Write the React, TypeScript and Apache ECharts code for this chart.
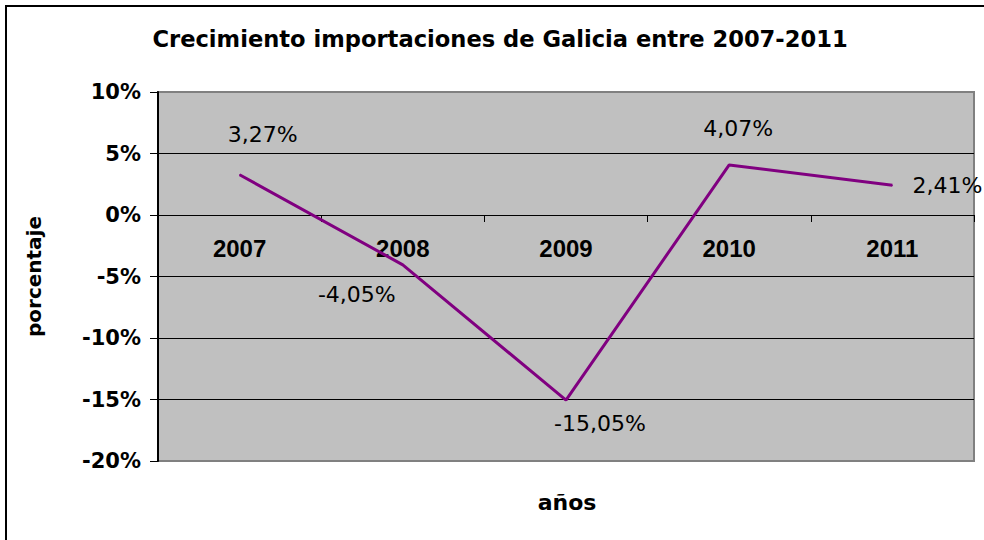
import React, { useEffect, useRef } from "react";
import * as echarts from "echarts";

const title = "Crecimiento importaciones de Galicia entre 2007-2011";
const categories = ["2007", "2008", "2009", "2010", "2011"];
const growth = [3.27, -4.05, -15.05, 4.07, 2.41];
const yMin = -20;
const yMax = 10;
const yStep = 5;
const yName = "porcentaje";
const xName = "años";

// label placement (layout, not data)
const labelOffsets: [number, number][] = [
  [23, -40],
  [-46, 30],
  [34, 23],
  [9, -36],
  [55, 0],
];

const GRID_TOP = 92;
const GRID_BOTTOM = 79;
const CHART_H = 540;

const fmt = (v: number) => v.toFixed(2).replace(".", ",") + "%";

export default function App() {
  const ref = useRef<HTMLDivElement>(null);
  useEffect(() => {
    if (!ref.current) return;
    const chart = echarts.init(ref.current, undefined, { renderer: "svg" });
    const nLines = (yMax - yMin) / yStep + 1;
    const splitColors = Array.from({ length: nLines }, (_, i) =>
      i === 0 || i === nLines - 1 ? "#808080" : "#000000"
    );
    // distance from bottom of grid to the zero line, so the category axis sits on 0
    const gridH = CHART_H - GRID_TOP - GRID_BOTTOM;
    const zeroFromBottom = (gridH * (0 - yMin)) / (yMax - yMin);
    chart.setOption({
      animation: false,
      backgroundColor: "#ffffff",
      title: {
        text: title,
        left: 500,
        top: 27,
        padding: 0,
        textAlign: "center",
        textStyle: {
          fontFamily: "DejaVu Sans",
          fontWeight: "bold",
          fontSize: 22.6,
          color: "#000",
        },
      },
      grid: {
        left: 158,
        top: GRID_TOP,
        right: 10,
        bottom: GRID_BOTTOM,
        show: true,
        backgroundColor: "#C0C0C0",
        borderColor: "#808080",
        borderWidth: 2,
      },
      xAxis: {
        type: "category",
        data: categories,
        boundaryGap: true,
        offset: -zeroFromBottom,
        axisLine: { onZero: false, lineStyle: { color: "#000", width: 1 } },
        axisTick: { show: true, length: 7, lineStyle: { color: "#000" } },
        axisLabel: {
          margin: 21,
          fontFamily: "Liberation Sans",
          fontWeight: "bold",
          fontSize: 24,
          color: "#000",
        },
        splitLine: { show: false },
      },
      yAxis: {
        type: "value",
        min: yMin,
        max: yMax,
        interval: yStep,
        name: yName,
        nameLocation: "middle",
        nameGap: 114,
        nameRotate: 90,
        nameTextStyle: {
          fontFamily: "DejaVu Sans",
          fontWeight: "bold",
          fontSize: 20,
          color: "#000",
        },
        axisLine: { show: true, lineStyle: { color: "#000", width: 2 } },
        axisTick: { show: true, length: 8, lineStyle: { color: "#000", width: 1 } },
        axisLabel: {
          margin: 17,
          formatter: (v: number) => v + "%",
          fontFamily: "DejaVu Sans",
          fontWeight: "bold",
          fontSize: 21,
          color: "#000",
        },
        splitLine: { show: true, lineStyle: { color: splitColors, width: 1 } },
      },
      graphic: [
        {
          type: "rect",
          shape: { x: 6, y: 6, width: 1000, height: 600 },
          style: { fill: "none", stroke: "#000", lineWidth: 2 },
          silent: true,
          z: 100,
        },
        {
          type: "text",
          x: 567,
          y: 502,
          style: {
            text: xName,
            fontFamily: "DejaVu Sans",
            fontWeight: "bold",
            fontSize: 22,
            fill: "#000",
            textAlign: "center",
            textVerticalAlign: "middle",
          },
        },
      ],
      series: [
        {
          type: "line",
          data: growth.map((v, i) => ({
            value: v,
            label: { offset: labelOffsets[i] },
          })),
          symbol: "circle",
          symbolSize: 1,
          itemStyle: { color: "#800080" },
          lineStyle: { color: "#800080", width: 3 },
          label: {
            show: true,
            position: "inside",
            formatter: (p: any) => fmt(p.value),
            fontFamily: "DejaVu Sans",
            fontSize: 22,
            color: "#000",
          },
        },
      ],
    });
    return () => chart.dispose();
  }, []);
  return (
    <div
      ref={ref}
      style={{ position: "fixed", left: 0, top: 0, width: 984, height: 540, background: "#fff" }}
    />
  );
}
